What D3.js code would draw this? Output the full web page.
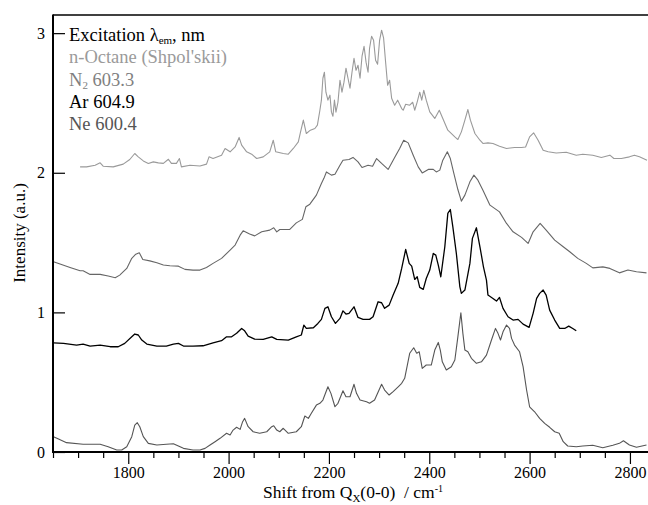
<!DOCTYPE html>
<html><head><meta charset="utf-8">
<script src="https://cdn.jsdelivr.net/npm/d3@7"></script>
<style>
body{margin:0;background:#fff;}
svg{display:block;font-family:"Liberation Serif","Times New Roman",serif;}
</style></head>
<body><svg id="c" width="648" height="505"></svg>
<script>
// ---- data: shift (cm^-1) and intensity (a.u.) ----
const octaneX = [1704,1717,1734,1744,1750,1770,1790,1803,1813,1820,1830,1840,1850,1860,1870,1880,1886,1896,1902,1906,1923,1943,1956,1961,1969,1986,1993,2003,2013,2021,2026,2036,2046,2056,2069,2082,2089,2094,2109,2119,2129,2139,2143,2149,2155,2163,2172,2177,2182,2185,2188,2191,2194,2198,2202,2205,2208,2211,2214,2218,2222,2226,2230,2234,2238,2242,2246,2250,2254,2258,2262,2266,2270,2274,2278,2281,2285,2289,2293,2297,2301,2305,2309,2313,2317,2321,2325,2331,2337,2345,2348,2353,2361,2367,2371,2376,2381,2385,2389,2394,2401,2411,2420,2427,2437,2451,2457,2464,2471,2477,2482,2491,2501,2507,2517,2527,2540,2554,2570,2584,2592,2600,2608,2617,2627,2637,2653,2673,2693,2706,2726,2743,2760,2768,2783,2799,2809,2819,2834];
const octaneY = [2.042,2.042,2.054,2.071,2.047,2.042,2.062,2.095,2.138,2.114,2.085,2.067,2.078,2.071,2.067,2.097,2.067,2.067,2.102,2.042,2.054,2.049,2.062,2.114,2.102,2.126,2.174,2.150,2.185,2.253,2.198,2.150,2.133,2.102,2.114,2.150,2.233,2.150,2.138,2.133,2.174,2.221,2.286,2.377,2.281,2.305,2.317,2.341,2.448,2.520,2.677,2.720,2.577,2.520,2.556,2.434,2.405,2.520,2.434,2.505,2.663,2.577,2.649,2.749,2.677,2.606,2.720,2.820,2.734,2.770,2.677,2.835,2.906,2.792,2.720,2.892,2.978,2.949,2.806,2.777,2.949,3.021,2.964,2.792,2.627,2.663,2.534,2.484,2.520,2.460,2.448,2.491,2.484,2.505,2.448,2.508,2.577,2.520,2.591,2.520,2.436,2.389,2.448,2.389,2.305,2.257,2.238,2.293,2.377,2.453,2.377,2.281,2.233,2.210,2.214,2.210,2.190,2.174,2.181,2.181,2.185,2.257,2.286,2.233,2.162,2.150,2.142,2.147,2.126,2.133,2.126,2.110,2.126,2.102,2.102,2.114,2.126,2.114,2.090];

const n2X = [1651,1664,1684,1704,1710,1724,1744,1760,1774,1783,1797,1807,1815,1822,1829,1843,1857,1870,1883,1900,1913,1929,1943,1956,1969,1986,2003,2013,2023,2029,2042,2052,2066,2082,2090,2096,2102,2122,2135,2147,2154,2162,2175,2185,2190,2195,2205,2212,2222,2228,2240,2248,2258,2266,2278,2287,2295,2305,2318,2331,2341,2349,2358,2368,2378,2386,2398,2408,2414,2421,2427,2436,2442,2449,2457,2464,2471,2481,2489,2497,2507,2521,2540,2554,2567,2584,2597,2607,2621,2633,2650,2667,2680,2696,2713,2726,2746,2760,2779,2796,2813,2833];
const n2Y = [1.362,1.346,1.322,1.298,1.298,1.272,1.272,1.260,1.248,1.267,1.315,1.387,1.417,1.427,1.379,1.369,1.355,1.339,1.334,1.331,1.308,1.303,1.303,1.322,1.351,1.387,1.446,1.482,1.553,1.584,1.561,1.548,1.577,1.589,1.606,1.577,1.594,1.594,1.641,1.666,1.756,1.775,1.840,1.923,1.960,2.006,1.983,1.990,2.054,2.090,2.095,2.110,2.078,2.038,2.054,2.047,2.102,2.067,2.024,2.110,2.174,2.233,2.214,2.126,2.042,1.999,2.024,2.024,2.006,2.019,2.090,2.150,2.102,1.995,1.880,1.797,1.840,1.935,1.983,1.947,1.875,1.768,1.720,1.637,1.577,1.537,1.494,1.577,1.637,1.589,1.518,1.470,1.434,1.387,1.351,1.319,1.326,1.315,1.283,1.303,1.291,1.283];

const arX = [1651,1671,1697,1710,1724,1744,1764,1780,1793,1807,1813,1820,1827,1837,1857,1876,1890,1900,1910,1929,1949,1969,1986,1996,2006,2016,2026,2032,2039,2052,2069,2086,2096,2119,2135,2145,2150,2155,2169,2178,2185,2192,2198,2205,2213,2222,2228,2234,2240,2250,2258,2268,2281,2288,2298,2305,2311,2320,2328,2338,2345,2353,2360,2365,2371,2376,2381,2388,2394,2401,2408,2413,2418,2423,2431,2437,2442,2447,2454,2461,2464,2471,2481,2486,2494,2501,2508,2514,2517,2527,2534,2540,2547,2557,2567,2577,2587,2599,2607,2614,2620,2627,2633,2640,2650,2660,2670,2678,2686,2693];
const arY = [0.782,0.778,0.766,0.773,0.759,0.766,0.754,0.754,0.778,0.825,0.845,0.838,0.802,0.773,0.759,0.759,0.773,0.778,0.759,0.759,0.761,0.782,0.797,0.825,0.825,0.850,0.885,0.868,0.830,0.809,0.807,0.825,0.807,0.802,0.825,0.838,0.909,0.885,0.890,0.921,0.950,1.029,1.040,0.969,0.921,0.957,1.011,0.988,0.993,1.040,0.964,0.950,0.950,0.969,1.076,1.069,1.029,1.052,1.124,1.208,1.315,1.451,1.351,1.331,1.236,1.255,1.179,1.165,1.243,1.303,1.422,1.410,1.339,1.255,1.470,1.709,1.737,1.613,1.422,1.183,1.136,1.160,1.351,1.530,1.606,1.470,1.326,1.231,1.124,1.100,1.081,1.107,1.029,0.969,0.945,0.950,0.916,0.893,0.993,1.100,1.136,1.160,1.124,1.016,0.945,0.885,0.885,0.902,0.885,0.868];

const neX = [1651,1661,1677,1710,1744,1760,1777,1787,1797,1807,1813,1818,1823,1830,1840,1857,1876,1890,1900,1910,1929,1943,1953,1963,1973,1983,1996,2003,2009,2016,2023,2028,2032,2039,2049,2062,2076,2086,2090,2096,2102,2109,2119,2135,2145,2152,2159,2165,2175,2182,2188,2198,2204,2212,2218,2228,2234,2242,2250,2255,2262,2275,2281,2291,2305,2311,2320,2328,2338,2345,2351,2361,2369,2375,2380,2386,2394,2404,2411,2418,2422,2426,2434,2444,2451,2457,2463,2467,2471,2477,2484,2494,2504,2514,2524,2532,2537,2542,2547,2554,2560,2564,2570,2580,2587,2594,2600,2610,2620,2630,2640,2650,2659,2667,2676,2693,2706,2726,2746,2766,2779,2787,2799,2813,2833];
const neY = [0.110,0.093,0.067,0.055,0.055,0.038,0.014,0.014,0.038,0.110,0.193,0.210,0.181,0.110,0.062,0.050,0.055,0.059,0.043,0.026,0.014,0.014,0.026,0.050,0.074,0.098,0.134,0.122,0.157,0.177,0.162,0.217,0.241,0.181,0.145,0.134,0.145,0.181,0.188,0.157,0.145,0.170,0.134,0.145,0.181,0.258,0.241,0.277,0.336,0.349,0.372,0.467,0.420,0.324,0.349,0.439,0.396,0.396,0.485,0.420,0.372,0.360,0.349,0.372,0.485,0.444,0.408,0.432,0.467,0.492,0.528,0.707,0.747,0.707,0.718,0.599,0.623,0.623,0.730,0.785,0.730,0.646,0.587,0.611,0.659,0.825,0.997,0.850,0.730,0.718,0.671,0.635,0.646,0.694,0.802,0.885,0.850,0.802,0.861,0.909,0.885,0.814,0.766,0.718,0.611,0.444,0.324,0.288,0.241,0.205,0.177,0.145,0.134,0.074,0.043,0.038,0.043,0.048,0.031,0.048,0.062,0.081,0.050,0.034,0.050];

const xMajorTicks = [1800,2000,2200,2400,2600,2800];
const xMinorTicks = [1650,1700,1750,1850,1900,1950,2050,2100,2150,2250,2300,2350,2450,2500,2550,2650,2700,2750];
const yTicks = [0,1,2,3];

// ---- chart ----
const svg = d3.select("#c");
const L = 53, R = 648, T = 15, B = 452;
const x = d3.scaleLinear().domain([1650, 2836]).range([L, R]);
const y = d3.scaleLinear().domain([0, 3.13]).range([B, T]);

svg.append("defs").append("clipPath").attr("id","clip")
  .append("rect").attr("x",L).attr("y",T).attr("width",R-L).attr("height",B-T);

const series = [
  {xs: octaneX, ys: octaneY, color: "#9a9a9a", w: 1.1},
  {xs: n2X, ys: n2Y, color: "#666", w: 1.1},
  {xs: arX, ys: arY, color: "#000", w: 1.3},
  {xs: neX, ys: neY, color: "#555", w: 1.1}
];
const line = d3.line().x(d => x(d[0])).y(d => y(d[1]));
const g = svg.append("g").attr("clip-path","url(#clip)");
series.forEach(s => {
  g.append("path").datum(d3.zip(s.xs, s.ys))
    .attr("d", line).attr("fill","none")
    .attr("stroke", s.color).attr("stroke-width", s.w)
    .attr("stroke-linejoin","round");
});

// x axis
const xMaj = svg.append("g").attr("transform",`translate(0,${B})`)
  .call(d3.axisBottom(x).tickValues(xMajorTicks).tickSize(12).tickSizeOuter(0).tickPadding(3).tickFormat(d3.format("d")));
const xMin = svg.append("g").attr("transform",`translate(0,${B})`)
  .call(d3.axisBottom(x).tickValues(xMinorTicks).tickSize(6).tickSizeOuter(0).tickFormat(""));
// y axis
const yAx = svg.append("g").attr("transform",`translate(${L},0)`)
  .call(d3.axisLeft(y).tickValues(yTicks).tickSize(-12).tickSizeOuter(0).tickPadding(8).tickFormat(d3.format("d")));
[xMaj,xMin,yAx].forEach(a => {
  a.select(".domain").remove();
  a.selectAll("line").attr("stroke","#000").attr("stroke-width",1.2);
  a.selectAll("text").attr("font-family","Liberation Serif, serif").attr("font-size",16).attr("fill","#000");
});

// frame
svg.append("line").attr("x1",L).attr("x2",R).attr("y1",B).attr("y2",B).attr("stroke","#000").attr("stroke-width",2);
svg.append("line").attr("x1",L).attr("x2",L).attr("y1",T-0.5).attr("y2",B+1).attr("stroke","#000").attr("stroke-width",2);
svg.append("line").attr("x1",L).attr("x2",R).attr("y1",T).attr("y2",T).attr("stroke","#000").attr("stroke-width",1.3);

// axis titles
const xt = svg.append("text").attr("x",353).attr("y",498).attr("text-anchor","middle")
  .attr("font-size",17.5).attr("fill","#000").style("white-space","pre");
xt.append("tspan").text("Shift from Q");
xt.append("tspan").attr("font-size",11).attr("dy",4).text("X");
xt.append("tspan").attr("dy",-4).text("(0-0)\u00a0\u00a0/ cm");
xt.append("tspan").attr("font-size",10).attr("dy",-6).text("-1");

svg.append("text").attr("transform","translate(25,233) rotate(-90)").attr("text-anchor","middle")
  .attr("font-size",17).attr("fill","#000").text("Intensity (a.u.)");

// legend
const lx = 69, ly0 = 41, ldy = 22.3;
const fs = 18.5;
const t0 = svg.append("text").attr("x",lx).attr("y",ly0).attr("font-size",fs).attr("fill","#000");
t0.append("tspan").text("Excitation λ");
t0.append("tspan").attr("font-size",11).attr("dy",3).text("em");
t0.append("tspan").attr("dy",-3).text(", nm");
svg.append("text").attr("x",lx).attr("y",ly0+ldy).attr("font-size",fs).attr("fill","#9a9a9a").text("n-Octane (Shpol'skii)");
const t2 = svg.append("text").attr("x",lx).attr("y",ly0+2*ldy).attr("font-size",fs).attr("fill","#808080");
t2.append("tspan").text("N");
t2.append("tspan").attr("font-size",11).attr("dy",3).text("2");
t2.append("tspan").attr("dy",-3).text(" 603.3");
svg.append("text").attr("x",lx).attr("y",ly0+3*ldy).attr("font-size",fs).attr("fill","#000").text("Ar 604.9");
svg.append("text").attr("x",lx).attr("y",ly0+4*ldy).attr("font-size",fs).attr("fill","#555").text("Ne 600.4");
</script></body></html>
